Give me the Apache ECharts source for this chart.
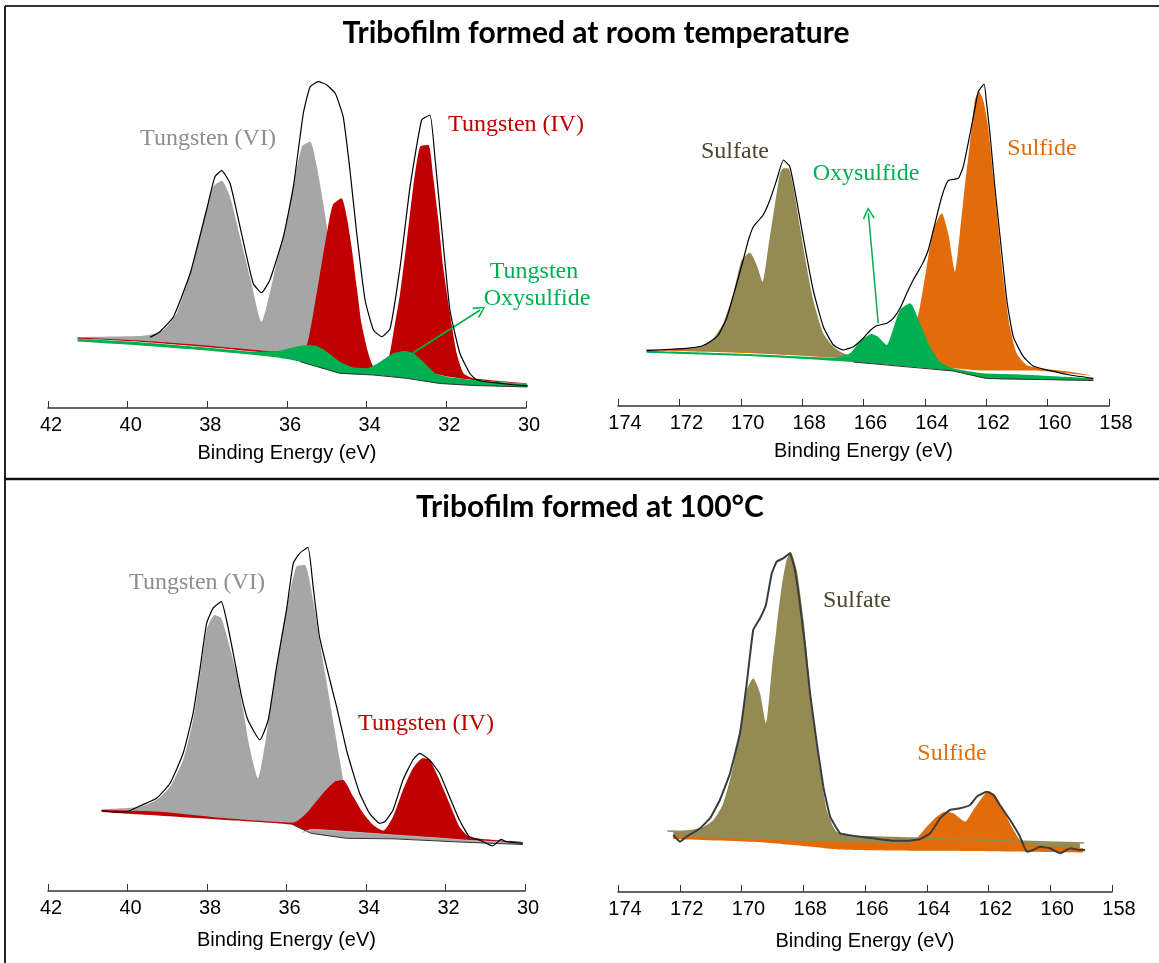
<!DOCTYPE html>
<html>
<head>
<meta charset="utf-8">
<script src="https://cdn.jsdelivr.net/npm/echarts@6/dist/echarts.min.js"></script>
<style>
html,body{margin:0;padding:0;background:#fff;}
#chart{width:1159px;height:963px;}
</style>
</head>
<body>
<div id="chart"></div>
<script>
// ---------- tick labels / axes ----------
const wAxis = [30, 42];          // tungsten 4f binding energy range
const sAxis = [158, 174];        // sulfur 2p binding energy range
const axisTitle = 'Binding Energy (eV)';
const titles = ['Tribofilm formed at room temperature', 'Tribofilm formed at 100°C'];

// ---------- Top-left: W 4f, room temperature ----------
const tlEnvelope = [[39.44,70.7],[39.19,76.3],[38.85,91.3],[38.43,134.7],[38.02,198],[37.81,231.3],[37.64,237.3],[37.43,224.7],[37.18,181.3],[36.85,124.7],[36.64,115.3],[36.43,128],[36.09,171.3],[35.84,221.3],[35.59,294.7],[35.42,321.3],[35.21,326.3],[35.0,323],[34.79,314.7],[34.59,291.3],[34.42,238],[34.25,174.7],[34.04,108],[33.83,78],[33.62,71.3],[33.41,79.7],[33.16,141.3],[32.91,221.3],[32.62,288],[32.41,293],[32.28,248],[32.12,181.3],[31.91,98],[31.66,54.7],[31.41,34.7],[31.24,28],[30.5,24],[29.65,21.3]];
const tlW6 = [[41.26,71],[39.69,72],[39.36,74],[39.1,78],[38.77,94.7],[38.43,134.7],[38.1,188],[37.85,221.3],[37.64,227.3],[37.43,211.3],[37.18,171.3],[36.93,131.3],[36.64,86.3],[36.34,131.3],[36.01,188],[35.63,261.3],[35.42,266.3],[35.25,241.3],[35.09,204.7],[34.92,161.3],[34.75,114.7],[34.59,74.7],[34.42,51.3],[34.17,38],[33.83,34.7],[33.0,32],[32.0,29],[29.65,22]];
const tlW4 = [[41.26,70.5],[39.69,67.5],[38.02,62.5],[36.34,56.5],[35.67,56],[35.5,63],[35.34,94.7],[35.17,134.7],[35.0,174.7],[34.85,203],[34.63,209.7],[34.5,191.3],[34.38,161.3],[34.25,121.3],[34.13,84.7],[33.96,54.7],[33.83,41.3],[33.66,38.7],[33.46,48],[33.33,74.7],[33.16,114.7],[33.0,164.7],[32.83,221.3],[32.66,261.3],[32.45,263],[32.33,231.3],[32.2,188],[32.08,141.3],[31.91,94.7],[31.74,54.7],[31.57,34.7],[31.32,29.7],[29.65,23.5]];
const tlBase1 = [[41.5,69.8],[41.26,69.5],[39.69,66.3],[38.02,61],[36.77,56.3],[35.0,50],[34.42,40],[34.0,39],[33.3,36],[32.28,34],[31.99,31.5],[31.32,28],[29.65,23],[29.4,22.5]];
const tlOxy = [[41.26,69.2],[39.69,65.8],[38.02,60.5],[36.77,56.3],[36.18,57.3],[35.84,60.7],[35.5,63],[35.25,62],[35.0,56.3],[34.67,46.3],[34.33,40.7],[34.0,39.7],[33.66,46.3],[33.33,54.7],[33.04,57],[32.83,54.7],[32.58,46.3],[32.28,34.7],[31.99,31.3],[31.32,28],[29.65,23]];
const tlBase2 = [[41.5,67],[41.26,66.5],[39.69,62.5],[38.02,57.5],[36.34,51],[35.67,46.3],[34.67,34.7],[33.83,33],[33.0,29.7],[32.16,24.5],[31.3,22.5],[29.65,20.7],[29.4,20.4]];

// ---------- Top-right: S 2p, room temperature ----------
const trEnvelope = [[173.07,55.3],[172.31,56.7],[171.76,57.7],[171.27,60],[171.0,64.3],[170.73,71],[170.46,87.7],[170.19,116],[169.92,146],[169.75,166],[169.59,179.3],[169.27,191],[169.05,206],[168.83,226],[168.61,246],[168.4,239.3],[168.18,206],[167.91,159.3],[167.64,116],[167.31,79.3],[166.98,61],[166.66,56],[166.33,59.3],[166.01,67.7],[165.79,75.3],[165.57,80.3],[165.24,82.7],[165.03,87.7],[164.81,97.7],[164.59,112.7],[164.38,126],[164.1,141],[163.89,156],[163.67,182.7],[163.45,209.3],[163.24,225.3],[162.91,227.7],[162.75,239.3],[162.59,262.7],[162.42,289.3],[162.26,314.3],[162.07,322],[161.99,302.7],[161.88,272.7],[161.72,219.3],[161.55,169.3],[161.33,106],[161.12,69.3],[160.79,49.3],[160.47,40],[159.92,35.3],[159.27,31],[158.51,27.7]];
const trSulfate = [[173.07,56],[171.98,57.3],[171.27,60],[170.89,67.7],[170.57,82.7],[170.24,112.7],[169.97,146],[169.7,153.3],[169.48,141],[169.29,124.3],[169.1,159.3],[168.88,202.7],[168.72,232.7],[168.61,237.7],[168.45,237.7],[168.29,219.3],[168.07,179.3],[167.85,139.3],[167.64,106],[167.31,72.7],[166.98,59.3],[166.66,52.7],[166.33,49.3],[165.8,44],[158.5,20]];
const trSulfide = [[173.07,56.7],[169.59,53.7],[166.33,48],[164.59,52.7],[164.38,72.7],[164.16,99.3],[163.94,139.3],[163.73,176],[163.45,192.7],[163.24,172.7],[163.02,134.3],[162.86,172.7],[162.7,219.3],[162.53,262.7],[162.37,306],[162.23,314.3],[162.1,306],[161.94,279.3],[161.77,229.3],[161.61,179.3],[161.45,129.3],[161.23,79.3],[161.01,52.7],[160.69,41],[160.25,37.7],[159.27,34.3],[158.62,31]];
const trBase1 = [[173.3,56],[173.07,55.7],[169.59,52.7],[166.33,47],[163.08,37.7],[162.1,35.5],[160.47,35.5],[158.62,30.5],[158.35,30]];
const trOxy = [[173.07,55.2],[169.59,51.8],[166.88,48.3],[166.44,52.7],[166.12,64.3],[165.74,72],[165.53,69.3],[165.24,61],[165.08,72.7],[164.81,96],[164.48,102.7],[164.16,82.7],[163.83,59.3],[163.51,44.3],[163.08,37.7],[162.1,32.7],[160.9,31.5],[158.51,27.7]];
const trBase2 = [[173.3,53.6],[173.07,53.3],[169.59,49.8],[166.33,44],[163.08,35],[161.99,27.5],[158.51,25.5],[158.3,25.3]];

// ---------- Bottom-left: W 4f, 100 °C ----------
const blEnvelope = [[40.65,80.5],[40.3,79],[40.0,79.5],[39.69,85],[39.27,92.7],[38.93,107.7],[38.6,137.7],[38.35,177.7],[38.18,221],[38.01,267.7],[37.85,282.7],[37.64,289.3],[37.51,271],[37.34,237.7],[37.13,194.3],[36.97,171],[36.67,151],[36.46,171],[36.25,224.3],[36.0,281],[35.83,327.7],[35.67,337.7],[35.46,343.7],[35.33,304.3],[35.17,254.3],[34.91,211],[34.74,184.3],[34.49,141],[34.32,117.7],[34.16,97.7],[33.91,77.7],[33.66,67.7],[33.53,69.3],[33.32,81],[33.07,111],[32.82,131],[32.65,137.7],[32.4,131],[32.15,117.7],[31.9,94.3],[31.65,71],[31.4,54.3],[31.15,51],[30.82,45],[30.6,51.7],[30.48,49.3],[30.06,47.7]];
const blW6 = [[40.65,81.7],[39.69,84.3],[39.27,91],[38.93,104.3],[38.6,131],[38.35,171],[38.18,214.3],[38.01,261],[37.81,276],[37.64,272.7],[37.43,244.3],[37.26,217.7],[37.09,181],[36.93,144.3],[36.72,112.7],[36.51,154.3],[36.3,211],[36.09,264.3],[35.92,297.7],[35.75,324.3],[35.54,326],[35.33,291],[35.17,251],[35.0,211],[34.83,171],[34.66,131],[34.54,104.3],[34.41,84.3],[34.16,69.3],[33.66,61],[32.49,56],[30.06,49.3]];
const blW4 = [[40.65,81],[39.19,79.3],[37.51,72.7],[35.83,68.3],[35.5,77.7],[35.08,97.7],[34.79,109.3],[34.58,111],[34.32,94.3],[34.07,77.7],[33.82,66],[33.57,60.3],[33.32,74.3],[33.07,101],[32.82,122.7],[32.57,132.7],[32.4,131],[32.15,111],[31.9,87.7],[31.65,64.3],[31.4,54.3],[30.82,51],[30.06,49]];
const blW6tail = [[35.6,58.5],[35.38,61.7],[34.5,59.5],[33.32,56],[32.2,53],[31.4,50.5],[30.06,48]];
const blBase = [[40.9,79.5],[40.65,79],[37.51,71],[35.83,66],[35.38,57.7],[34.49,52.7],[33.32,52.2],[31.65,49],[30.06,46.5],[29.8,46]];

// ---------- Bottom-right: S 2p, 100 °C ----------
const brEnvelope = [[172.21,57],[171.99,50.3],[171.78,55.3],[171.34,63.7],[171.02,73.7],[170.7,92],[170.37,118.7],[170.05,158.7],[169.83,208.7],[169.62,262],[169.4,273.7],[169.21,287],[169.02,318.7],[168.86,330.3],[168.65,333.7],[168.43,338.7],[168.27,322],[168.11,288.7],[167.94,245.3],[167.78,198.7],[167.56,148.7],[167.35,105.3],[167.13,75.3],[166.81,58.7],[166.54,57],[166.16,55.3],[165.73,53.7],[165.08,51.3],[164.65,51.3],[164.22,52.7],[163.89,58.7],[163.57,73.7],[163.25,82],[162.92,83.7],[162.6,87],[162.38,95.3],[162.06,100.3],[161.84,97],[161.63,87],[161.3,72],[160.98,55.3],[160.76,40.3],[160.55,42],[160.33,45.3],[160.01,43.7],[159.68,38.7],[159.36,43.7],[159.04,42],[158.87,42]];
const brSulfate = [[172.21,60.3],[171.34,63.7],[170.91,72],[170.59,88.7],[170.27,125.3],[170.0,172],[169.83,202],[169.62,213.7],[169.4,198.7],[169.21,168.7],[169.02,222],[168.86,265.3],[168.7,305.3],[168.54,332],[168.41,340.3],[168.21,322],[167.99,272],[167.83,222],[167.67,172],[167.45,122],[167.24,82],[166.97,62],[166.7,57],[164.65,53.7],[159.04,48.7]];
const brSulfide = [[172.21,56],[168.99,52],[166.81,50.3],[164.65,48.7],[164.33,53.7],[164.0,65.3],[163.68,75.3],[163.41,80.3],[163.14,78.7],[162.76,70.3],[162.49,82],[162.22,93.7],[162.0,101.3],[161.79,97],[161.52,82],[161.25,65.3],[160.98,52],[160.66,47],[158.93,43.7]];
const brBase = [[172.5,53.4],[172.21,53],[169.5,50],[168.0,46],[166.8,42.5],[165.08,41.5],[162.49,41],[158.93,39.5],[158.6,39.3]];
const brSulfateBase = [[172.4,61],[158.9,49]];

// ---------- annotation arrows (data coords) ----------
const tlArrow = [[32.84,55],[31.15,98]];
const trArrow = [[165.52,82.7],[165.84,192.7]];

// ---------- colours ----------
const C = {
  grey:'#a6a6a6', red:'#c00000', green:'#00b050', olive:'#948a54', orange:'#e36c0a',
  greyText:'#8e8e8e', oliveText:'#4a4630'
};

const chart = echarts.init(document.getElementById('chart'), null, {renderer:'canvas'});

const grids = [
  {left:48, top:58, width:478, height:350},
  {left:618, top:56, width:491, height:350},
  {left:48, top:541, width:477, height:350},
  {left:618, top:542, width:494, height:350}
];
const ranges = [wAxis, sAxis, wAxis, sAxis];

const xAxes = ranges.map((r,i)=>({
  type:'value', gridIndex:i, min:r[0], max:r[1], interval:2, inverse:true, position:'bottom', z:10,
  axisLine:{show:true, onZero:false, lineStyle:{color:'#333', width:1.5}},
  axisTick:{show:true, inside:true, length:7, lineStyle:{color:'#333', width:1}},
  axisLabel:{color:'#000', fontSize:20, fontFamily:'Liberation Sans', margin:7, showMinLabel:true, showMaxLabel:true,
    padding: (i%2===1) ? [0,0,0,14] : [0,0,0,6]},
  splitLine:{show:false},
  name:axisTitle, nameLocation:'middle', nameGap:(i<2?35:39),
  nameTextStyle:{fontSize:20, fontFamily:'Liberation Sans', color:'#000'}
}));
const yAxes = grids.map((g,i)=>({type:'value', gridIndex:i, min:0, max:350, show:false}));

function fill(g, data, color, z){
  return {type:'line', xAxisIndex:g, yAxisIndex:g, data:data, symbol:'none', smooth:0.2, clip:false,
    lineStyle:{opacity:0}, areaStyle:{color:color, opacity:1, origin:'start'}, z:z, silent:true};
}
function curve(g, data, color, width, z, smooth){
  return {type:'line', xAxisIndex:g, yAxisIndex:g, data:data, symbol:'none', smooth:smooth||0, clip:false,
    lineStyle:{color:color, width:width}, z:z, silent:true};
}
const chevron = 'path://M5,0 L10,9 L9,10 L5,2.2 L1,10 L0,9 Z';
function arrow(g, pts, color){
  return {type:'line', xAxisIndex:g, yAxisIndex:g, data:[], z:9, silent:true,
    markLine:{silent:true, animation:false, symbol:['none', chevron], symbolSize:[12,12],
      label:{show:false}, lineStyle:{color:color, width:1.5, type:'solid'},
      data:[[{coord:pts[0]},{coord:pts[1]}]]}};
}

const series = [
  // top-left
  fill(0, tlW6, C.grey, 2),
  fill(0, tlW4, C.red, 3),
  fill(0, tlBase1, '#fff', 4),
  fill(0, tlOxy, C.green, 5),
  fill(0, tlBase2, '#fff', 6),
  curve(0, tlBase2.slice(5, 12), '#333', 1, 7),
  curve(0, tlEnvelope, '#000', 1.2, 8, 0.15),
  arrow(0, tlArrow, C.green),
  // top-right
  fill(1, trSulfate, C.olive, 2),
  fill(1, trSulfide, C.orange, 3),
  fill(1, trBase1, '#fff', 4),
  fill(1, trOxy, C.green, 5),
  fill(1, trBase2, '#fff', 6),
  curve(1, trBase2.slice(3, 7), '#333', 1, 7),
  curve(1, trEnvelope, '#000', 1.2, 8, 0.15),
  arrow(1, trArrow, C.green),
  // bottom-left
  fill(2, blW6, C.grey, 2),
  fill(2, blW4, C.red, 3),
  fill(2, blW6tail, C.grey, 4),
  fill(2, blBase, '#fff', 5),
  curve(2, blBase.slice(3, 9), '#333', 1, 6),
  curve(2, blW6tail, '#bbb', 1, 6),
  curve(2, blEnvelope, '#000', 1.2, 8, 0.15),
  // bottom-right
  fill(3, brSulfate, C.olive, 2),
  fill(3, brSulfide, C.orange, 3),
  fill(3, brBase, '#fff', 4),
  curve(3, brSulfateBase, C.olive, 1.5, 5),
  curve(3, brEnvelope, '#3c3c3c', 2, 8, 0.1)
];

function txt(x, y, text, color, font){
  return {type:'text', x:x, y:y, silent:true, z:20,
    style:{text:text, fill:color, font:font||'24px "Liberation Serif"', align:'center', verticalAlign:'middle'}};
}

const graphic = [
  {type:'line', shape:{x1:5, y1:6, x2:1159, y2:6}, style:{stroke:'#333', lineWidth:2}, silent:true},
  {type:'line', shape:{x1:5, y1:6, x2:5, y2:963}, style:{stroke:'#222', lineWidth:2}, silent:true},
  {type:'line', shape:{x1:5, y1:479, x2:1159, y2:479}, style:{stroke:'#111', lineWidth:2.5}, silent:true},
  txt(596, 33, titles[0], '#000', 'bold 30px Lato'),
  txt(590, 507, titles[1], '#000', 'bold 30px Lato'),
  txt(208, 139, 'Tungsten (VI)', C.greyText),
  txt(516, 125, 'Tungsten (IV)', C.red),
  txt(534, 272, 'Tungsten', C.green),
  txt(537, 299, 'Oxysulfide', C.green),
  txt(735, 152, 'Sulfate', C.oliveText),
  txt(866, 174, 'Oxysulfide', C.green),
  txt(1042, 149, 'Sulfide', C.orange),
  txt(197, 583, 'Tungsten (VI)', C.greyText),
  txt(426, 724, 'Tungsten (IV)', C.red),
  txt(857, 601, 'Sulfate', C.oliveText),
  txt(952, 754, 'Sulfide', C.orange)
];

chart.setOption({
  animation:false,
  backgroundColor:'#fff',
  grid:grids,
  xAxis:xAxes,
  yAxis:yAxes,
  series:series,
  graphic:graphic
});
</script>
</body>
</html>
